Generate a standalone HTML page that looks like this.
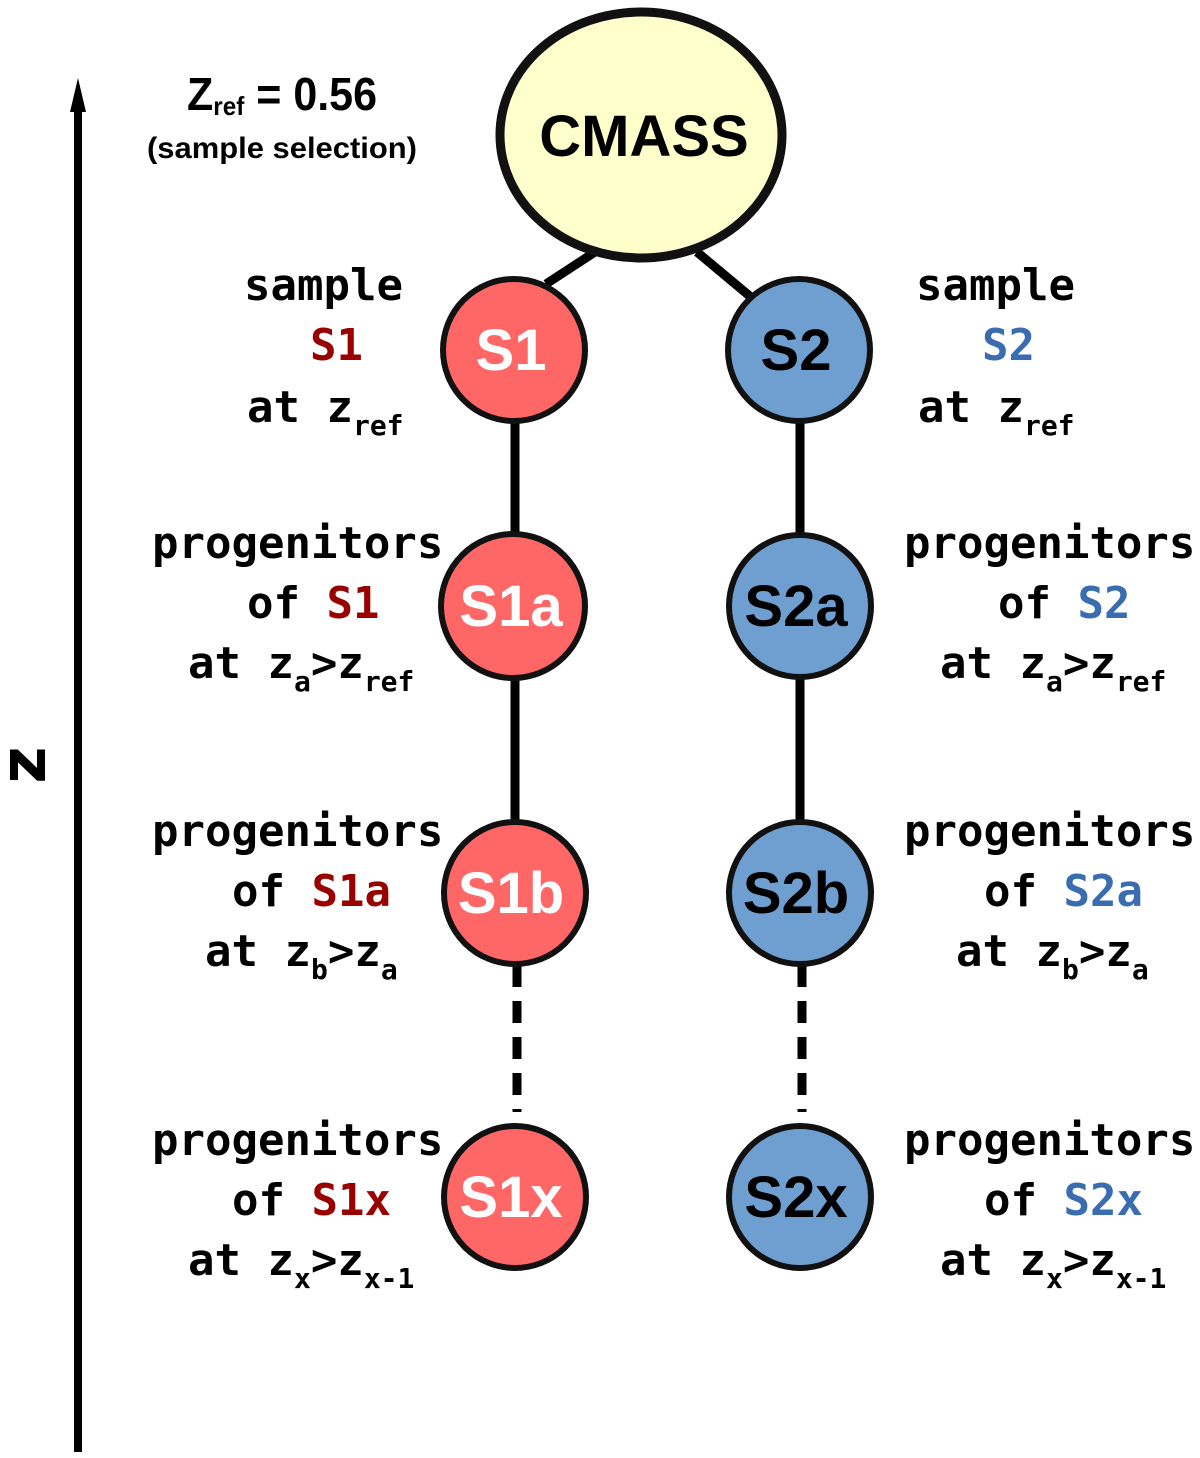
<!DOCTYPE html>
<html><head><meta charset="utf-8"><style>
html,body{margin:0;padding:0;background:#fff;}
svg{display:block;}
.m{font-family:"DejaVu Sans Mono","Liberation Mono",monospace;font-weight:bold;font-size:44px;fill:#000;}
.s{font-size:28px;}
.r{fill:#990000;}
.b{fill:#3a6db0;}
.n{font-family:"Liberation Sans",sans-serif;font-weight:bold;font-size:58px;text-anchor:middle;}
</style></head><body>
<svg width="1200" height="1458" viewBox="0 0 1200 1458" xmlns="http://www.w3.org/2000/svg">
<!-- axis -->
<line x1="78" y1="1452" x2="78" y2="105" stroke="#000" stroke-width="8"/>
<polygon points="78,78 70,112 86,112" fill="#000"/>
<text x="0" y="0" transform="translate(45,765) rotate(-90)" font-family="DejaVu Sans,Liberation Sans,sans-serif" font-weight="bold" font-size="64" text-anchor="middle">z</text>

<!-- top label -->
<text x="187" y="110" font-family="Liberation Sans,sans-serif" font-weight="bold" font-size="46" textLength="190" lengthAdjust="spacingAndGlyphs">Z<tspan font-size="26" dy="5">ref</tspan><tspan dy="-5" font-size="46"> = 0.56</tspan></text>
<text x="147" y="158" font-family="Liberation Sans,sans-serif" font-weight="bold" font-size="30" textLength="270" lengthAdjust="spacingAndGlyphs">(sample selection)</text>

<!-- connectors -->
<g stroke="#000" stroke-width="9">
<line x1="546" y1="284" x2="595" y2="252"/>
<line x1="697" y1="252" x2="752" y2="298"/>
<line x1="515" y1="420" x2="515" y2="535"/>
<line x1="515" y1="675" x2="515" y2="822"/>
<line x1="800" y1="420" x2="800" y2="535"/>
<line x1="800" y1="675" x2="800" y2="822"/>
<line x1="517" y1="965" x2="517" y2="1112" stroke-dasharray="22,14"/>
<line x1="802" y1="965" x2="802" y2="1112" stroke-dasharray="22,14"/>
</g>

<!-- CMASS -->
<ellipse cx="641" cy="135" rx="141" ry="123" fill="#ffffcc" stroke="#111" stroke-width="9"/>
<text x="644" y="156" class="n" font-size="60">CMASS</text>

<!-- nodes -->
<g stroke="#111" stroke-width="6">
<circle cx="514" cy="350" r="71" fill="#ff6666"/>
<circle cx="513" cy="606" r="72" fill="#ff6666"/>
<circle cx="515" cy="893" r="71" fill="#ff6666"/>
<circle cx="515" cy="1197" r="71" fill="#ff6666"/>
<circle cx="799" cy="350" r="71" fill="#6f9fd0"/>
<circle cx="800" cy="606" r="71" fill="#6f9fd0"/>
<circle cx="800" cy="893" r="71" fill="#6f9fd0"/>
<circle cx="800" cy="1197" r="71" fill="#6f9fd0"/>
</g>
<g class="n">
<text x="511" y="370" fill="#fff">S1</text>
<text x="511" y="626" fill="#fff">S1a</text>
<text x="511" y="913" fill="#fff">S1b</text>
<text x="511" y="1217" fill="#fff">S1x</text>
<text x="796" y="370" fill="#000">S2</text>
<text x="796" y="626" fill="#000">S2a</text>
<text x="796" y="913" fill="#000">S2b</text>
<text x="796" y="1217" fill="#000">S2x</text>
</g>

<!-- left labels -->
<g class="m">
<text x="244" y="300">sample</text>
<text x="310" y="360" class="r">S1</text>
<text x="247" y="422">at z<tspan class="s" dy="13">ref</tspan></text>

<text x="152" y="558">progenitors</text>
<text x="247" y="618">of <tspan class="r">S1</tspan></text>
<text x="188" y="678">at z<tspan class="s" dy="13">a</tspan><tspan dy="-13">&gt;z</tspan><tspan class="s" dy="13">ref</tspan></text>

<text x="152" y="846">progenitors</text>
<text x="232" y="906">of <tspan class="r">S1a</tspan></text>
<text x="205" y="966">at z<tspan class="s" dy="13">b</tspan><tspan dy="-13">&gt;z</tspan><tspan class="s" dy="13">a</tspan></text>

<text x="152" y="1155">progenitors</text>
<text x="232" y="1215">of <tspan class="r">S1x</tspan></text>
<text x="188" y="1275">at z<tspan class="s" dy="13">x</tspan><tspan dy="-13">&gt;z</tspan><tspan class="s" dy="13">x-1</tspan></text>
</g>

<!-- right labels -->
<g class="m">
<text x="916" y="300">sample</text>
<text x="982" y="360" class="b">S2</text>
<text x="918" y="422">at z<tspan class="s" dy="13">ref</tspan></text>

<text x="904" y="558">progenitors</text>
<text x="998" y="618">of <tspan class="b">S2</tspan></text>
<text x="940" y="678">at z<tspan class="s" dy="13">a</tspan><tspan dy="-13">&gt;z</tspan><tspan class="s" dy="13">ref</tspan></text>

<text x="904" y="846">progenitors</text>
<text x="984" y="906">of <tspan class="b">S2a</tspan></text>
<text x="956" y="966">at z<tspan class="s" dy="13">b</tspan><tspan dy="-13">&gt;z</tspan><tspan class="s" dy="13">a</tspan></text>

<text x="904" y="1155">progenitors</text>
<text x="984" y="1215">of <tspan class="b">S2x</tspan></text>
<text x="940" y="1275">at z<tspan class="s" dy="13">x</tspan><tspan dy="-13">&gt;z</tspan><tspan class="s" dy="13">x-1</tspan></text>
</g>
</svg>
</body></html>
